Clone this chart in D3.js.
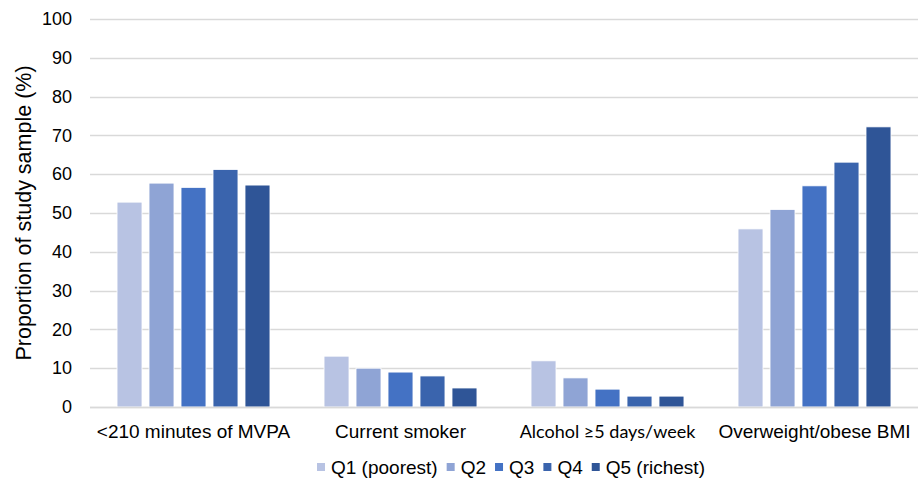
<!DOCTYPE html>
<html><head><meta charset="utf-8">
<script src="https://cdn.jsdelivr.net/npm/d3@7"></script>
<style>body{margin:0;background:#fff}svg{display:block}text{font-family:"Liberation Sans",Arial,sans-serif;fill:#000}</style>
</head><body><svg id="c" width="918" height="482"></svg>
<script>
const categories = ["<210 minutes of MVPA","Current smoker","Alcohol \u22655 days/week","Overweight/obese BMI"];
const seriesNames = ["Q1 (poorest)","Q2","Q3","Q4","Q5 (richest)"];
const q1 = [52.8, 13.1, 11.9, 45.9];
const q2 = [57.7, 10.0, 7.5, 50.9];
const q3 = [56.6, 9.0, 4.6, 57.0];
const q4 = [61.2, 8.0, 2.8, 63.1];
const q5 = [57.2, 4.9, 2.8, 72.2];
const yTicks = [0,10,20,30,40,50,60,70,80,90,100];
const colors = ["#b8c3e3","#8fa4d5","#4472c4","#3a64ad","#2f5597"];
const series = [q1,q2,q3,q4,q5];

const FONT = "'Liberation Sans',Arial,sans-serif";
const svg = d3.select("#c");
const m = {l:90, r:918, t:19, b:407};
const x = d3.scaleBand().domain(categories).range([m.l, m.r]).padding(0);
const xs = d3.scaleBand().domain(seriesNames).range([0, x.bandwidth()]).paddingInner(0.22).paddingOuter(0.845);
const y = d3.scaleLinear().domain([0,100]).range([m.b, m.t]);

// gridlines
svg.append("g").selectAll("line").data(yTicks).join("line")
  .attr("x1", m.l).attr("x2", m.r)
  .attr("y1", d=>Math.round(y(d))+0.5).attr("y2", d=>Math.round(y(d))+0.5)
  .attr("stroke", "#d9d9d9").attr("stroke-width", 1.3);

// y axis labels
const ya = svg.append("g").attr("transform", `translate(${m.l},0)`)
  .call(d3.axisLeft(y).tickValues(yTicks).tickSize(0).tickPadding(18));
ya.select(".domain").remove();
ya.selectAll("text").style("font-size","18px").style("font-family",FONT).attr("fill","#000");

// bars
const g = svg.append("g");
categories.forEach((c, ci) => {
  seriesNames.forEach((s, si) => {
    const v = series[si][ci];
    g.append("rect")
      .attr("x", x(c) + xs(s))
      .attr("y", y(v))
      .attr("width", xs.bandwidth())
      .attr("height", y(0) - y(v))
      .attr("fill", colors[si])
      .attr("stroke", "#fff").attr("stroke-width", 0.8);
  });
});

// baseline
svg.append("line").attr("x1", m.l).attr("x2", m.r).attr("y1", Math.round(y(0))+0.5).attr("y2", Math.round(y(0))+0.5)
  .attr("stroke", "#d9d9d9").attr("stroke-width", 1.3);

// x axis labels
const xa = svg.append("g").attr("transform", `translate(0,${m.b})`)
  .call(d3.axisBottom(x).tickSize(0).tickPadding(18));
xa.select(".domain").remove();
xa.selectAll("text").style("font-size","19px").style("font-family",FONT).attr("fill","#000");
xa.selectAll("text").filter(d => d === categories[2])
  .style("font-family","Lato,'Open Sans',sans-serif").style("font-size","18px");

// y title
svg.append("text").attr("transform", "translate(31,213) rotate(-90)")
  .attr("text-anchor","middle").style("font-size","21.5px").style("font-family",FONT)
  .text("Proportion of study sample (%)");

// legend
const leg = svg.append("g");
const items = seriesNames.map((s, i) => {
  const t = leg.append("text").attr("y", 474).style("font-size","19px").style("font-family",FONT).text(s);
  return {t, w: t.node().getComputedTextLength(), i};
});
const sw = 8, gapST = 6, gapItem = 9;
const total = d3.sum(items, d => sw + gapST + d.w) + gapItem * (items.length - 1);
let cx = 511 - total / 2;
items.forEach(d => {
  leg.append("rect").attr("x", cx).attr("y", 463).attr("width", sw).attr("height", sw).attr("fill", colors[d.i]);
  d.t.attr("x", cx + sw + gapST);
  cx += sw + gapST + d.w + gapItem;
});
</script></body></html>
